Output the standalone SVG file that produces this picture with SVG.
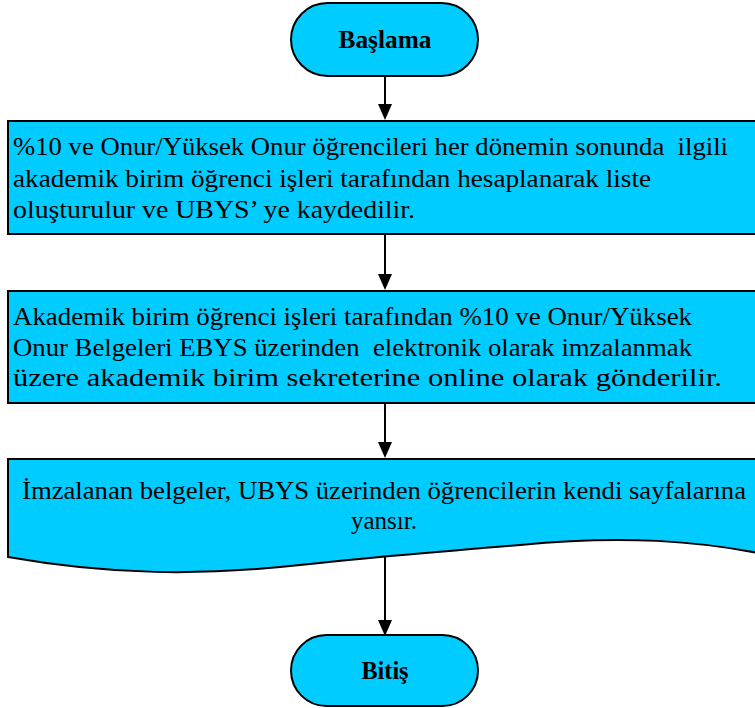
<svg xmlns="http://www.w3.org/2000/svg" width="755" height="708" viewBox="0 0 755 708">
<style>
.shape{fill:#00CCFF;stroke:#000;stroke-width:2}
.t{font-family:"Liberation Serif","Times New Roman",serif;font-size:26px;fill:#000;white-space:pre}
.b{font-family:"Liberation Serif","Times New Roman",serif;font-size:25px;font-weight:bold;fill:#000;text-anchor:middle}
.c{fill:none;stroke:#000;stroke-width:2}
</style>
<rect width="755" height="708" fill="#fff"/>
<g id="connectors">
<line class="c" x1="385" y1="76" x2="385" y2="104"/><path d="M378,104 L392,104 L385,120 Z"/>
<line class="c" x1="385" y1="234" x2="385" y2="274"/><path d="M378,274 L392,274 L385,290 Z"/>
<line class="c" x1="385" y1="403" x2="385" y2="442"/><path d="M378,442 L392,442 L385,458 Z"/>
<line class="c" x1="385" y1="555" x2="385" y2="620"/><path d="M378,620 L392,620 L385,636 Z"/>
</g>
<g id="start">
<rect class="shape" x="291" y="3" width="187" height="73" rx="36.5" ry="36.5"/>
<text class="b" x="385" y="48" textLength="93" lengthAdjust="spacingAndGlyphs">Başlama</text>
</g>
<g id="step1">
<rect class="shape" x="8" y="121" width="770" height="113"/>
<text class="t" x="13" y="155" textLength="715" lengthAdjust="spacingAndGlyphs">%10 ve Onur/Yüksek Onur öğrencileri her dönemin sonunda  ilgili</text>
<text class="t" x="13" y="187" textLength="638" lengthAdjust="spacingAndGlyphs">akademik birim öğrenci işleri tarafından hesaplanarak liste</text>
<text class="t" x="13" y="218" textLength="402" lengthAdjust="spacingAndGlyphs">oluşturulur ve UBYS’ ye kaydedilir.</text>
</g>
<g id="step2">
<rect class="shape" x="8" y="291" width="770" height="112"/>
<text class="t" x="13" y="325" textLength="679" lengthAdjust="spacingAndGlyphs">Akademik birim öğrenci işleri tarafından %10 ve Onur/Yüksek</text>
<text class="t" x="13" y="356" textLength="679" lengthAdjust="spacingAndGlyphs">Onur Belgeleri EBYS üzerinden  elektronik olarak imzalanmak</text>
<text class="t" x="13" y="386" textLength="709" lengthAdjust="spacingAndGlyphs">üzere akademik birim sekreterine online olarak gönderilir.</text>
</g>
<g id="step3">
<path class="shape" d="M8,459 H778 V557 C700,540 620,535 520,545 C440,552 380,556 300,565 C200,576 110,575 8,557 Z"/>
<text class="t" x="384" y="499" text-anchor="middle" textLength="724" lengthAdjust="spacingAndGlyphs">İmzalanan belgeler, UBYS üzerinden öğrencilerin kendi sayfalarına</text>
<text class="t" x="384" y="529" text-anchor="middle" textLength="66" lengthAdjust="spacingAndGlyphs">yansır.</text>
</g>
<g id="end">
<rect class="shape" x="291" y="635" width="187" height="71" rx="35.5" ry="35.5"/>
<text class="b" x="385" y="679" textLength="47" lengthAdjust="spacingAndGlyphs">Bitiş</text>
</g>
</svg>
